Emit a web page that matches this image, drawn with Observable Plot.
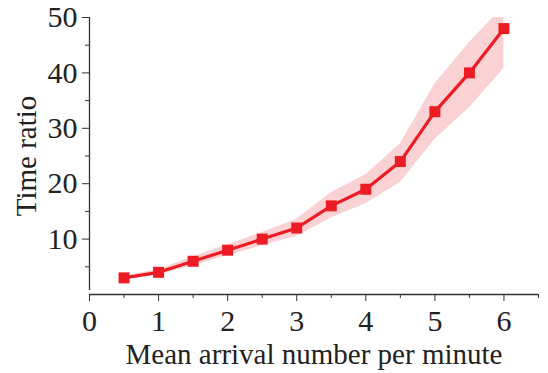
<!DOCTYPE html>
<html><head><meta charset="utf-8">
<script src="https://cdn.jsdelivr.net/npm/d3@7"></script>
<script src="https://cdn.jsdelivr.net/npm/@observablehq/plot@0.6"></script>
<style>body{margin:0;background:#fff;} svg{font-family:"Liberation Serif",serif;}</style>
</head><body><div id="chart"></div>
<script>
const arrival = [0.5, 1, 1.5, 2, 2.5, 3, 3.5, 4, 4.5, 5, 5.5, 6];
const ratio   = [3, 4, 6, 8, 10, 12, 16, 19, 24, 33, 40, 48];
const lower   = [2.7, 3.5, 5.2, 7, 8.8, 10.5, 13.8, 16.4, 20.2, 28, 33.7, 40.8];
const upper   = [3.3, 4.5, 6.8, 9, 11.2, 13.6, 18.4, 21.6, 27.2, 38, 45.5, 52];
const xTicks = [0, 1, 2, 3, 4, 5, 6];
const xMinor = [0.5, 1.5, 2.5, 3.5, 4.5, 5.5, 6.5];
const yTicks = [10, 20, 30, 40, 50];
const yMinor = [5, 15, 25, 35, 45];
const xLabel = "Mean arrival number per minute";
const yLabel = "Time ratio";

const data = arrival.map((x, i) => ({x, y: ratio[i], lo: lower[i], hi: upper[i]}));
const red = "#ed1c24", axisColor = "#333";

const chart = Plot.plot({
  width: 548, height: 373,
  marginLeft: 89, marginRight: 10, marginTop: 17, marginBottom: 79,
  x: {domain: [0, 6.5]},
  y: {domain: [0, 50]},
  marks: [
    Plot.areaY(data, {x: "x", y1: "lo", y2: "hi", fill: red, fillOpacity: 0.2, clip: true}),
    Plot.lineY(data, {x: "x", y: "y", stroke: red, strokeWidth: 3.2}),
    Plot.dot(data, {x: "x", y: "y", symbol: "square", r: 6.2, fill: red, stroke: "none"}),
    Plot.ruleY([0], {stroke: axisColor, strokeWidth: 1.3}),
    Plot.ruleX([0], {y1: 0.7, y2: 50, stroke: axisColor, strokeWidth: 1.3}),
    Plot.axisX(xTicks, {tickSize: 7, tickPadding: 8, fontSize: 30, stroke: axisColor, fill: "#222", label: null}),
    Plot.axisX(xMinor, {tickSize: 4, text: null, stroke: axisColor, label: null}),
    Plot.axisY(yTicks, {tickSize: 7, tickPadding: 5, fontSize: 30, stroke: axisColor, fill: "#222", label: null}),
    Plot.axisY(yMinor, {tickSize: 4, text: null, stroke: axisColor, label: null}),
    Plot.text([xLabel], {frameAnchor: "bottom", lineAnchor: "middle", textAnchor: "middle", dy: 60, fontSize: 29, fill: "#222", text: d => d}),
    Plot.text([yLabel], {frameAnchor: "left", lineAnchor: "middle", textAnchor: "middle", dx: -63, rotate: -90, fontSize: 29, fill: "#222", text: d => d})
  ]
});
document.getElementById("chart").appendChild(chart);
</script></body></html>
